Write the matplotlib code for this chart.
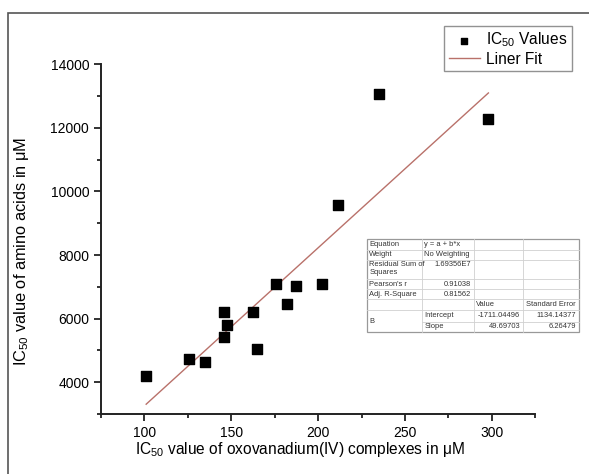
#!/usr/bin/env python3
"""IC50 of amino acids vs oxovanadium(IV) complexes, with linear fit table."""

import matplotlib

matplotlib.use("Agg")
import matplotlib.pyplot as plt
import numpy as np
from matplotlib.lines import Line2D
from matplotlib.patches import Rectangle
from matplotlib.ticker import MultipleLocator

plt.rcParams["font.family"] = ["Liberation Sans", "DejaVu Sans"]
plt.rcParams["mathtext.fontset"] = "custom"
plt.rcParams["mathtext.rm"] = "Liberation Sans"
plt.rcParams["mathtext.it"] = "Liberation Sans:italic"
plt.rcParams["mathtext.default"] = "rm"

# data
ic50_complex = [101, 125.6, 135, 146, 147.3, 145.8, 162.6, 164.7, 175.6,
                182.3, 187, 202, 211.4, 235, 298]
ic50_amino = [4210, 4740, 4640, 6210, 5800, 5410, 6210, 5060, 7090,
              6460, 7020, 7090, 9570, 13070, 12290]

intercept = -1711.04496
slope = 49.69703
fit_range = [101, 298]

# fit table contents
stat_labels = ["Equation", "Weight", "Residual Sum of\nSquares", "Pearson's r", "Adj. R-Square"]
stat_values = ["y = a + b*x", "No Weighting", "1.69356E7", "0.91038", "0.81562"]
param_names = ["Intercept", "Slope"]
param_values = ["-1711.04496", "49.69703"]
param_errors = ["1134.14377", "6.26479"]

W, H = 589, 474
fig = plt.figure(figsize=(W / 100, H / 100), dpi=100)
ax = fig.add_axes([101 / W, 1 - 414 / H, (535.3 - 101) / W, (414 - 64.3) / H])


def fpx(x, y):
    return x / W, 1 - y / H


ax.scatter(ic50_complex, ic50_amino, marker="s", s=42, color="black",
           zorder=3, label="IC$_{50}$ Values")
xf = np.array(fit_range, dtype=float)
ax.plot(xf, intercept + slope * xf, color="#b9716a", lw=1.0, label="Liner Fit")

ax.set_xlim(75, 325)
ax.set_ylim(3000, 14000)
ax.xaxis.set_major_locator(MultipleLocator(50))
ax.xaxis.set_minor_locator(MultipleLocator(25))
ax.yaxis.set_major_locator(MultipleLocator(2000))
ax.yaxis.set_minor_locator(MultipleLocator(1000))
ax.set_yticks([4000, 6000, 8000, 10000, 12000, 14000])
ax.tick_params(which="major", direction="out", length=5, width=1.3, labelsize=10, color="#222")
ax.tick_params(which="minor", direction="out", length=3, width=1.3, color="#222")
for side in ["top", "right"]:
    ax.spines[side].set_visible(False)
for side in ["left", "bottom"]:
    ax.spines[side].set_linewidth(1.4)
    ax.spines[side].set_color("#222")

ax.set_xlabel(r"IC$_{50}$ value of oxovanadium(IV) complexes in μM", fontsize=11.2, labelpad=4)
ax.xaxis.set_label_coords((300 - 101) / (535.3 - 101), -0.075)
ax.set_ylabel(r"IC$_{50}$ value of amino acids in μM", fontsize=11.8)
ax.yaxis.set_label_coords((31 - 101) / (535.3 - 101), (414 - 251) / (414 - 64.3))

leg = ax.legend(loc="upper right", bbox_to_anchor=fpx(572, 26), bbox_transform=fig.transFigure,
                fontsize=11.2, frameon=True, fancybox=False, borderaxespad=0,
                handlelength=2.0, handletextpad=0.4, labelspacing=0.15, borderpad=0.3,
                markerscale=0.75)
leg.get_frame().set_edgecolor("#777")
leg.get_frame().set_linewidth(1.0)

# outer frame of the figure
x0, y0 = fpx(8.3, 13.3)
fig.add_artist(Rectangle((x0, -0.05), 1.1, y0 + 0.05, transform=fig.transFigure,
                         fill=False, edgecolor="#555", lw=1.2))

# fit statistics table (pixel layout)
cols = [367.3, 422.3, 474, 523.3, 579]
rows = [239.3, 250, 260, 279.3, 289.3, 299.3, 310, 321.7, 332.3]
tx0, ty0 = fpx(cols[0], rows[-1])
tx1, ty1 = fpx(cols[-1], rows[0])
fig.add_artist(Rectangle((tx0, ty0), tx1 - tx0, ty1 - ty0, transform=fig.transFigure,
                         facecolor="white", edgecolor="#999", lw=0.9, zorder=5))
for i, yy in enumerate(rows[1:-1], start=1):
    xs = cols[0] if i != 7 else cols[1]
    fig.add_artist(Line2D([xs / W, cols[-1] / W], [1 - yy / H] * 2, transform=fig.transFigure,
                          color="#d0d0d0", lw=0.6, zorder=6))
for xx in cols[1:-1]:
    fig.add_artist(Line2D([xx / W] * 2, [1 - rows[0] / H, 1 - rows[-1] / H], transform=fig.transFigure,
                          color="#d0d0d0", lw=0.6, zorder=6))

tfs = 5.4
tcol = "#333"


def cell(x, y, s, ha="left", va="center"):
    fx, fy = fpx(x, y)
    fig.text(fx, fy, s, ha=ha, va=va, fontsize=tfs, color=tcol, zorder=7, linespacing=1.1)


for i, (lab, val) in enumerate(zip(stat_labels, stat_values)):
    top, bot = rows[i], rows[i + 1]
    if "\n" in lab:
        cell(cols[0] + 2, top + 1.5, lab, va="top")
        cell(cols[2] - 3, top + 1.5, val, ha="right", va="top")
    elif i < 2:
        cell(cols[0] + 2, (top + bot) / 2, lab)
        cell(cols[1] + 2, (top + bot) / 2, val)
    else:
        cell(cols[0] + 2, (top + bot) / 2, lab)
        cell(cols[2] - 3, (top + bot) / 2, val, ha="right")

cell(cols[2] + 2, (rows[5] + rows[6]) / 2, "Value")
cell(cols[4] - 3, (rows[5] + rows[6]) / 2, "Standard Error", ha="right")
cell(cols[0] + 2, (rows[6] + rows[8]) / 2, "B")
for j, (nm, v, e) in enumerate(zip(param_names, param_values, param_errors)):
    yc = (rows[6 + j] + rows[7 + j]) / 2
    cell(cols[1] + 2, yc, nm)
    cell(cols[3] - 3, yc, v, ha="right")
    cell(cols[4] - 3, yc, e, ha="right")

fig.savefig("out.png", dpi=100)
